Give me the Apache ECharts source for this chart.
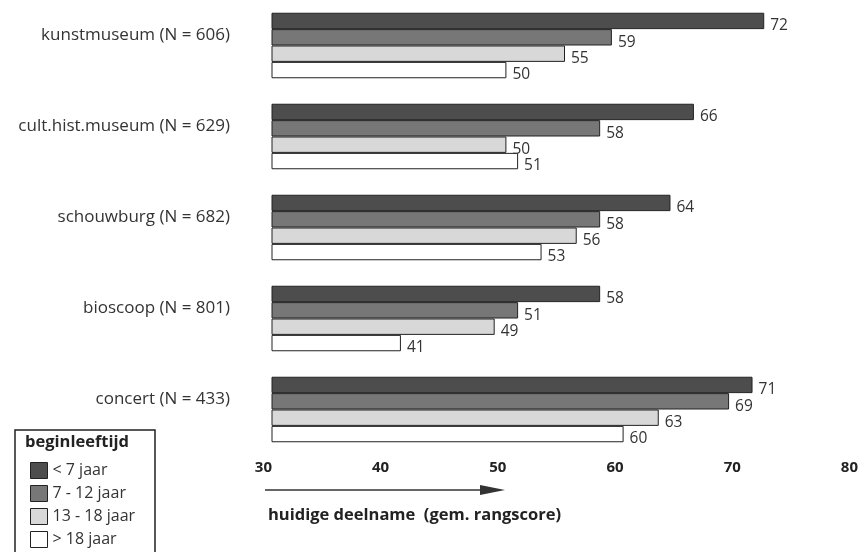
<!DOCTYPE html>
<html>
<head>
<meta charset="utf-8">
<script src="https://cdn.jsdelivr.net/npm/echarts@6/dist/echarts.min.js"></script>
<style>html,body{margin:0;padding:0;background:#fff}#c{width:861px;height:552px}</style>
</head>
<body>
<div id="c"></div>
<script>
const categories = ['kunstmuseum (N = 606)', 'cult.hist.museum (N = 629)', 'schouwburg (N = 682)', 'bioscoop (N = 801)', 'concert (N = 433)'];
const seriesNames = ['< 7 jaar', '7 - 12 jaar', '13 - 18 jaar', '> 18 jaar'];
const under7 = [72, 66, 64, 58, 71];
const age7to12 = [59, 58, 58, 51, 69];
const age13to18 = [55, 50, 56, 49, 63];
const over18 = [50, 51, 53, 41, 60];
const xTicks = [30, 40, 50, 60, 70, 80];
const legendTitle = 'beginleeftijd';
const axisTitle = 'huidige deelname  (gem. rangscore)';

const values = [under7, age7to12, age13to18, over18];
const colors = ['#4d4d4d', '#777777', '#d8d8d8', '#ffffff'];
const font = 'Open Sans';

const chart = echarts.init(document.getElementById('c'));
chart.setOption({
  animation: false,
  backgroundColor: '#fff',
  textStyle: { fontFamily: font },
  grid: { left: 272, right: 1, top: -3, height: 458 },
  xAxis: {
    type: 'value', min: xTicks[0], max: xTicks[xTicks.length - 1], interval: 10,
    axisLine: { show: false }, axisTick: { show: false }, splitLine: { show: false },
    axisLabel: { fontWeight: 'bold', fontSize: 15, color: '#222', align: 'right', margin: 5, fontFamily: font }
  },
  yAxis: {
    type: 'category', data: categories, inverse: true,
    axisLine: { show: false }, axisTick: { show: false },
    axisLabel: { fontSize: 17, color: '#333', margin: 42, verticalAlign: 'bottom', lineHeight: 20, fontFamily: font }
  },
  legend: {
    orient: 'vertical', left: 25, top: 457, height: 200, itemWidth: 17, itemHeight: 16, itemGap: 6,
    icon: 'rect',
    textStyle: { fontSize: 16, lineHeight: 17, color: '#333', fontFamily: font },
    itemStyle: { borderColor: '#222', borderWidth: 1 },
    data: seriesNames
  },
  graphic: [
    { type: 'rect', shape: { x: 15, y: 430, width: 140, height: 140 }, style: { fill: 'none', stroke: '#222', lineWidth: 1.5 } },
    { type: 'text', left: 25, top: 434, style: { text: legendTitle, font: 'bold 16.5px "Open Sans"', fill: '#222' } },
    { type: 'line', shape: { x1: 265, y1: 490, x2: 485, y2: 490 }, style: { stroke: '#333', lineWidth: 1.5 } },
    { type: 'polygon', shape: { points: [[480, 485], [505, 490], [480, 495]] }, style: { fill: '#333' } },
    { type: 'text', left: 268, top: 507, style: { text: axisTitle, font: 'bold 16.5px "Open Sans"', fill: '#222' } }
  ],
  series: values.map((v, i) => ({
    name: seriesNames[i], type: 'bar', data: v,
    barGap: '0%', barCategoryGap: '28%',
    itemStyle: { color: colors[i], borderColor: '#222', borderWidth: 1 },
    label: { show: true, position: 'right', distance: 6, offset: [0, 5], fontSize: 15.5, color: '#333', fontFamily: font }
  }))
});
</script>
</body>
</html>
